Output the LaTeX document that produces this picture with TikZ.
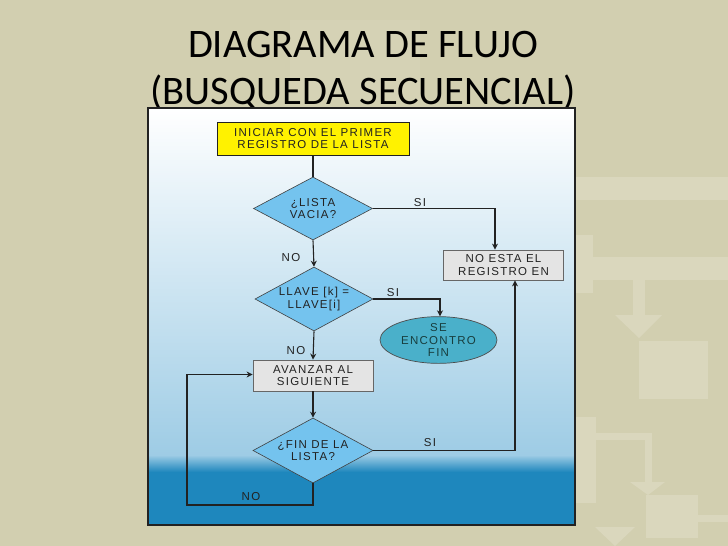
\documentclass[tikz,border=0pt]{standalone}
\usepackage{fontspec}
\usetikzlibrary{shapes.geometric,arrows.meta}
\newfontfamily\titlefont{Carlito}
\newfontfamily\dfont[LetterSpace=11]{Liberation Sans}
\definecolor{bgbeige}{HTML}{D2CFB0}
\definecolor{bglight}{HTML}{DAD7BD}
\definecolor{bgfaint}{HTML}{D5D2B5}
\definecolor{panelbot}{HTML}{1E87BD}
\definecolor{panelmid}{HTML}{9ECCE5}
\definecolor{dia}{HTML}{74C3EE}
\definecolor{boxgray}{HTML}{E4E4E4}
\definecolor{ellfill}{HTML}{4AB0CA}
\definecolor{ink}{HTML}{222222}
\definecolor{ylw}{HTML}{FFF200}
\tikzset{
  every node/.style={font=\dfont\fontsize{11.5}{12.5}\selectfont, text=ink, align=center},
  startbox/.style={rectangle, draw=ink, line width=0.8pt, fill=ylw, minimum width=192pt, minimum height=33pt, inner sep=0pt},
  graybox/.style={rectangle, draw=gray!80!black, line width=0.8pt, fill=boxgray, minimum width=120pt, minimum height=30pt, inner sep=0pt},
  decision/.style={diamond, aspect=1.9, draw=gray!50!black, line width=0.6pt, fill=dia, minimum width=119pt, minimum height=63pt, inner sep=-10pt},
  endell/.style={ellipse, draw=gray!60!black, line width=0.7pt, fill=ellfill, minimum width=117pt, minimum height=46pt, inner sep=0pt, text=ink!70!teal},
  conn/.style={draw=ink, line width=1.1pt},
  arr/.style={conn, -{Stealth[length=6pt,width=6pt]}},
  lbl/.style={inner sep=0pt},
  deco/.style={fill=bglight, draw=none}
}
\begin{document}
\begin{tikzpicture}[x=1pt,y=-1pt]
\useasboundingbox (0,0) rectangle (728,546);
\fill[bgbeige] (0,0) rectangle (728,546);
% faint template shapes
\fill[bgfaint] (290,20) rectangle (420,100);
\fill[deco] (575,177) rectangle (728,200);
\fill[deco] (575,235) rectangle (593,293);
\fill[deco] (590,257) rectangle (728,280);
\fill[deco] (633,280) rectangle (645,315);
\fill[deco] (615,315) -- (662,315) -- (639,338) -- cycle;
\fill[deco] (639,341) rectangle (708,399);
\fill[deco] (575,417) rectangle (596,503);
\fill[deco] (596,433) rectangle (652,440);
\fill[deco] (645,433) rectangle (652,482);
\fill[deco] (630,482) -- (665,482) -- (648,495) -- cycle;
\fill[deco] (646,495) rectangle (698,538);
\fill[deco] (698,515) rectangle (728,522);
\fill[deco] (595,527) -- (635,527) -- (615,546) -- cycle;
% title
\node[font=\titlefont\fontsize{40.5}{44}\selectfont, text=black] (t1) at (363,45) {DIAGRAMA DE FLUJO};
\node[font=\titlefont\fontsize{40.5}{44}\selectfont, text=black] (t2) at (363,92) {(BUSQUEDA SECUENCIAL)};
% panel
\shade[top color=white, bottom color=panelmid] (148,108) rectangle (575,455);
\shade[top color=panelmid, bottom color=panelbot] (148,455) rectangle (575,472);
\fill[panelbot] (148,472) rectangle (575,525);
\draw[ink, line width=1.3pt] (148,108) rectangle (575,525);
% nodes
\node[startbox] (start) at (313,138.5) {INICIAR CON EL PRIMER\\REGISTRO DE LA LISTA};
\node[decision] (d1) at (313,208.5) {¿LISTA\\VACIA?};
\node[graybox] (noesta) at (503.5,265) {NO ESTA EL\\REGISTRO EN};
\node[decision, minimum width=118pt, minimum height=64pt] (d2) at (314,299) {LLAVE [k] =\\LLAVE[i]};
\node[endell] (fin) at (438.5,340) {SE\\ENCONTRO\\FIN};
\node[graybox, minimum height=31pt] (avz) at (313,375.5) {AVANZAR AL\\SIGUIENTE};
\node[decision, minimum width=120pt, minimum height=65pt] (d3) at (313,450.5) {¿FIN DE LA\\LISTA?};
% helper coordinates
\coordinate (c1) at (313,505);
\coordinate (c2) at (187,374.5);
% connectors
\draw[conn] (start.south) -- (d1.north);
\draw[arr] (d1.east) -| ([xshift=-8.5pt]noesta.north);
\draw[arr] (d1.south) -- (d2.north);
\draw[arr] (d2.east) -| ([xshift=1.5pt]fin.north);
\draw[arr] (d2.south) -- (avz.north);
\draw[arr] (avz.south) -- (d3.north);
\draw[arr] (d3.east) -| ([xshift=11.5pt]noesta.south);
\draw[arr] (d3.south) -- (c1) -| (c2) -- (avz.west |- c2);
% labels
\node[lbl] (l1) at (420,203) {SI};
\node[lbl] (l2) at (291,258) {NO};
\node[lbl] (l3) at (393,293) {SI};
\node[lbl] (l4) at (296,351) {NO};
\node[lbl] (l5) at (430,443) {SI};
\node[lbl] (l6) at (251,497) {NO};
\end{tikzpicture}
\end{document}
